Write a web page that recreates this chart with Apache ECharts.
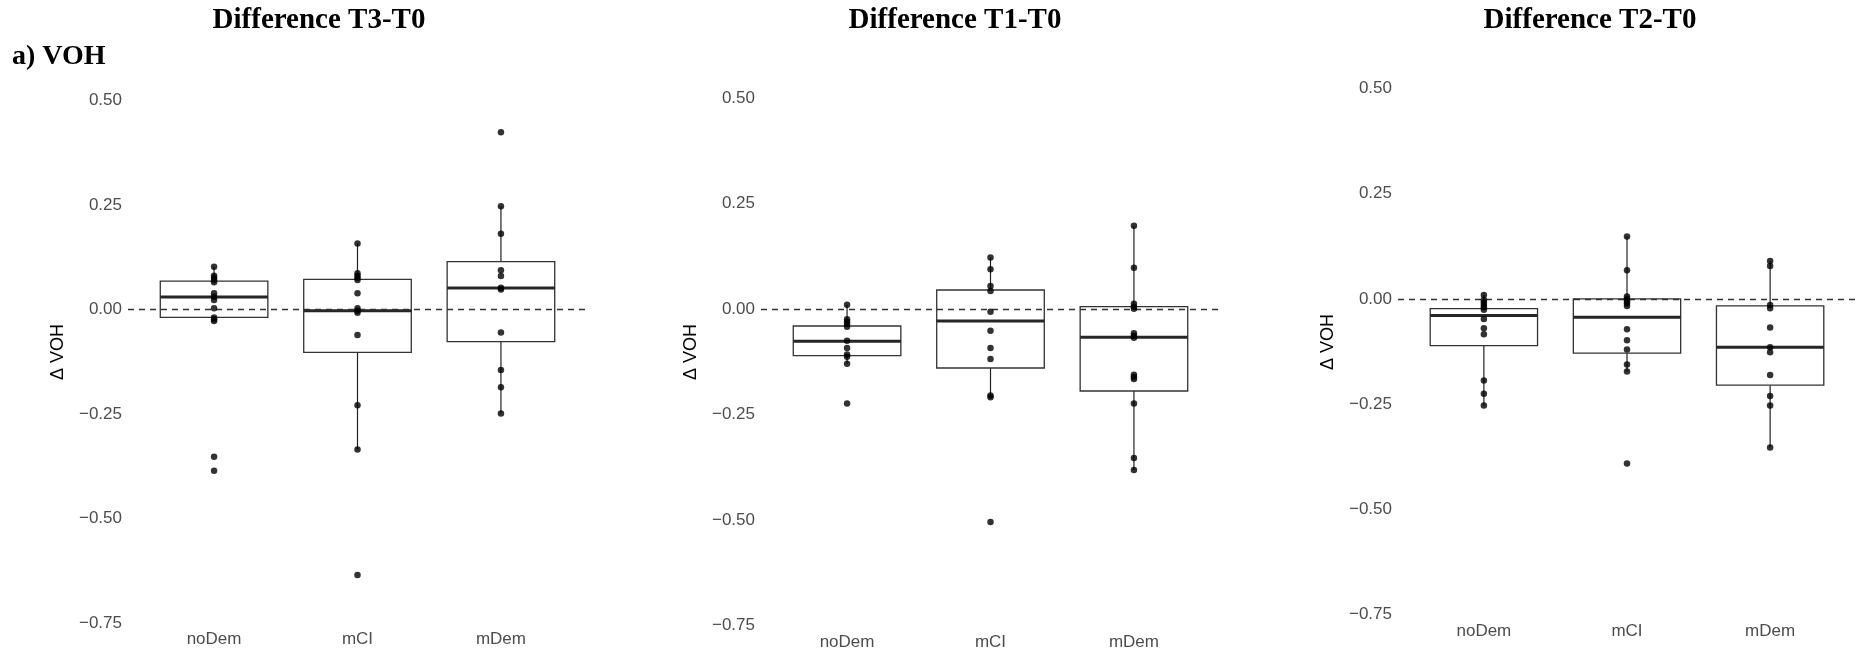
<!DOCTYPE html>
<html>
<head>
<meta charset="utf-8">
<script src="https://cdn.jsdelivr.net/npm/echarts@6/dist/echarts.min.js"></script>
<style>
  html, body { margin: 0; padding: 0; background: #fff; }
  #chart { width: 1858px; height: 651px; }
</style>
</head>
<body>
<div id="chart"></div>
<script>
// ---- data ----
const categories = ['noDem', 'mCI', 'mDem'];
const panelTitles = ['Difference T3-T0', 'Difference T1-T0', 'Difference T2-T0'];
const rowLabel = 'a) VOH';
const yAxisTitle = 'Δ VOH';
const yTicks = [-0.75, -0.5, -0.25, 0, 0.25, 0.5];

// box stats per category: [lower whisker, Q1, median, Q3, upper whisker]
const boxT3 = [
  [-0.028, -0.019, 0.030, 0.068, 0.102],
  [-0.335, -0.1025, -0.003, 0.072, 0.158],
  [-0.249, -0.077, 0.0515, 0.1145, 0.247]
];
const boxT1 = [
  [-0.130, -0.1106, -0.0766, -0.0403, 0.0103],
  [-0.2077, -0.1398, -0.0284, 0.045, 0.1217],
  [-0.3815, -0.1943, -0.0671, 0.0055, 0.1967]
];
const boxT2 = [
  [-0.2534, -0.1109, -0.0396, -0.023, 0.0095],
  [-0.1726, -0.129, -0.0436, 0.0, 0.148],
  [-0.353, -0.205, -0.1148, -0.0166, 0.0903]
];

// individual observations per category
const ptsT3 = [
  [0.1025, 0.081, 0.076, 0.0706, 0.065, 0.0387, 0.0307, 0.0227, 0.003, -0.019, -0.0235, -0.0275, -0.352, -0.386],
  [0.158, 0.0866, 0.081, 0.076, 0.0706, 0.0387, 0.003, -0.003, -0.0075, -0.061, -0.229, -0.335, -0.635],
  [0.424, 0.247, 0.181, 0.094, 0.080, 0.052, 0.048, -0.055, -0.145, -0.186, -0.249]
];
const ptsT1 = [
  [0.010, -0.0245, -0.030, -0.0355, -0.042, -0.075, -0.0924, -0.108, -0.113, -0.130, -0.224],
  [0.122, 0.094, 0.0545, 0.0427, -0.0063, -0.0513, -0.0924, -0.1185, -0.205, -0.209, -0.5047],
  [0.197, 0.098, 0.0122, 0.0055, 0.0008, -0.0577, -0.0632, -0.0679, -0.1556, -0.1611, -0.1659, -0.224, -0.353, -0.3815]
];
const ptsT2 = [
  [0.0095, -0.0024, -0.0087, -0.0143, -0.0198, -0.026, -0.0475, -0.0697, -0.084, -0.194, -0.2257, -0.2534],
  [0.148, 0.068, 0.0055, 0, -0.0055, -0.011, -0.0166, -0.072, -0.098, -0.120, -0.156, -0.1726, -0.391],
  [0.090, 0.078, -0.0143, -0.022, -0.068, -0.115, -0.1267, -0.181, -0.231, -0.2534, -0.353]
];

// ---- layout (pixels) ----
const panels = [
  { box: boxT3, pts: ptsT3, left: 128, top: 100.5, width: 459, height: 522.5, titleX: 319, yTitleX: 58, yTitleY: 352 },
  { box: boxT1, pts: ptsT1, left: 761, top: 98, width: 459, height: 527.5, titleX: 955, yTitleX: 691, yTitleY: 352 },
  { box: boxT2, pts: ptsT2, left: 1398, top: 88.5, width: 458, height: 526, titleX: 1590, yTitleX: 1328, yTitleY: 342 }
];

const labelFont = '"Liberation Sans", Arial, Helvetica, sans-serif';
const serifFont = '"Liberation Serif", "Times New Roman", serif';

function fmtY(v) {
  const s = Math.abs(v).toFixed(2);
  return v < -1e-9 ? '\u2212' + s : s;
}

function renderBox(params, api) {
  const x = api.value(0);
  const lo = api.value(1), q1 = api.value(2), med = api.value(3), q3 = api.value(4), hi = api.value(5);
  const w = api.size([0.75, 0])[0];
  const pLo = api.coord([x, lo]);
  const pQ1 = api.coord([x, q1]);
  const pMed = api.coord([x, med]);
  const pQ3 = api.coord([x, q3]);
  const pHi = api.coord([x, hi]);
  const cx = pQ1[0];
  const stroke = '#333';
  return {
    type: 'group',
    children: [
      { type: 'line', shape: { x1: cx, y1: pHi[1], x2: cx, y2: pQ3[1] }, style: { stroke: '#222', lineWidth: 1.2 } },
      { type: 'line', shape: { x1: cx, y1: pQ1[1], x2: cx, y2: pLo[1] }, style: { stroke: '#222', lineWidth: 1.2 } },
      { type: 'rect', shape: { x: cx - w / 2, y: pQ3[1], width: w, height: pQ1[1] - pQ3[1] },
        style: { fill: '#fff', stroke: stroke, lineWidth: 1.3 } },
      { type: 'line', shape: { x1: cx - w / 2, y1: pMed[1], x2: cx + w / 2, y2: pMed[1] },
        style: { stroke: '#262626', lineWidth: 3 } }
    ]
  };
}

const grid = [], xAxis = [], yAxis = [], series = [], graphic = [];

panels.forEach((p, i) => {
  grid.push({ left: p.left, top: p.top, width: p.width, height: p.height, containLabel: false });
  xAxis.push({
    gridIndex: i, type: 'value', min: 0.4, max: 3.6,
    axisLine: { show: false }, axisTick: { show: false }, splitLine: { show: false },
    axisLabel: {
      customValues: [1, 2, 3],
      margin: 8,
      color: '#4D4D4D', fontSize: 17, fontFamily: labelFont,
      formatter: v => {
        const k = Math.round(v);
        return Math.abs(v - k) < 1e-6 && k >= 1 && k <= 3 ? categories[k - 1] : '';
      }
    }
  });
  yAxis.push({
    gridIndex: i, type: 'value', min: yTicks[0], max: yTicks[yTicks.length - 1], interval: 0.25,
    axisLine: { show: false }, axisTick: { show: false }, splitLine: { show: false },
    axisLabel: {
      margin: 6, showMinLabel: true, showMaxLabel: true,
      color: '#4D4D4D', fontSize: 17, fontFamily: labelFont,
      formatter: fmtY
    }
  });
  series.push({
    type: 'custom', xAxisIndex: i, yAxisIndex: i, z: 2,
    renderItem: renderBox,
    encode: { x: 0, y: [1, 2, 3, 4, 5] },
    data: p.box.map((b, k) => [k + 1].concat(b)),
    silent: true
  });
  const scatterData = [];
  p.pts.forEach((arr, k) => arr.forEach(v => scatterData.push([k + 1, v])));
  series.push({
    type: 'scatter', xAxisIndex: i, yAxisIndex: i, z: 10,
    symbol: 'circle', symbolSize: 6.5,
    itemStyle: { color: '#000' },
    data: scatterData,
    silent: true,
    markLine: {
      silent: true, symbol: 'none', z: 5,
      label: { show: false },
      lineStyle: { type: [6, 5], color: '#333', width: 1.3 },
      data: [{ yAxis: 0 }]
    }
  });
  graphic.push({
    type: 'text', x: p.titleX, y: 21,
    style: { text: panelTitles[i], font: 'bold 29px ' + serifFont, fill: '#000',
      align: 'center', verticalAlign: 'middle', textAlign: 'center', textVerticalAlign: 'middle' }
  });
  graphic.push({
    type: 'text', x: p.yTitleX, y: p.yTitleY, rotation: Math.PI / 2,
    style: { text: yAxisTitle, font: '18px ' + labelFont, fill: '#000',
      align: 'center', verticalAlign: 'middle', textAlign: 'center', textVerticalAlign: 'middle' }
  });
});

graphic.push({
  type: 'text', x: 12, y: 57,
  style: { text: rowLabel, font: 'bold 28px ' + serifFont, fill: '#000',
    align: 'left', verticalAlign: 'middle', textAlign: 'left', textVerticalAlign: 'middle' }
});

const chart = echarts.init(document.getElementById('chart'), null, { renderer: 'canvas' });
chart.setOption({
  animation: false,
  backgroundColor: '#fff',
  grid, xAxis, yAxis, series, graphic
});
</script>
</body>
</html>
